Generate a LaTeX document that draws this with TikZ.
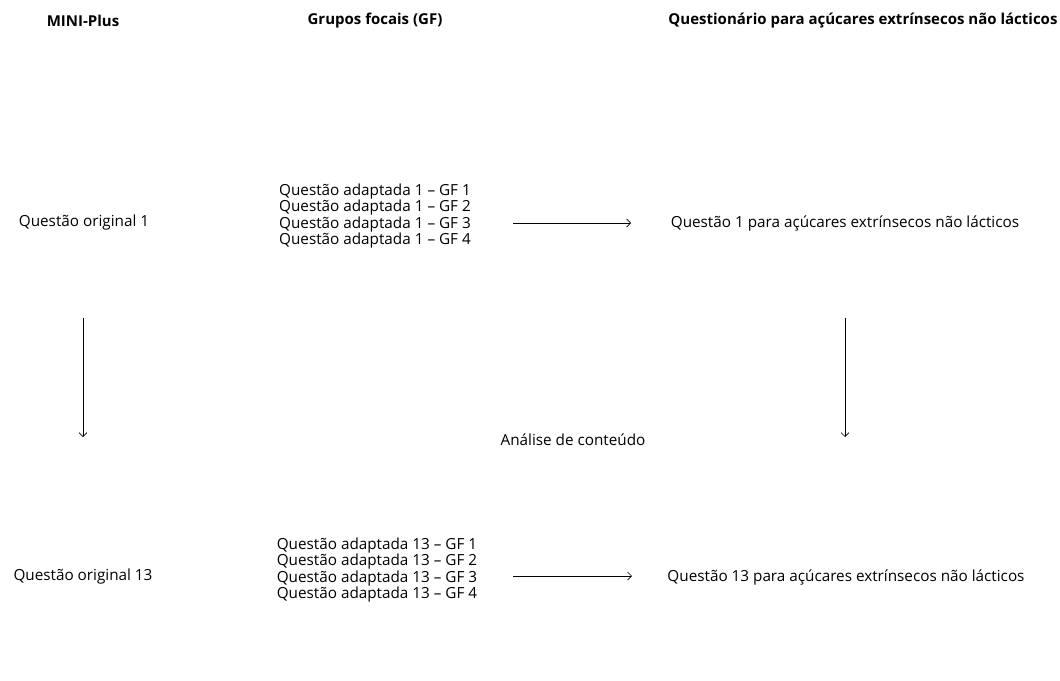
\documentclass[tikz,border=0pt]{standalone}
\usepackage{fontspec}
\setmainfont{Open Sans}
\usetikzlibrary{arrows.meta}

\begin{document}
\begin{tikzpicture}[x=0.2646mm,y=-0.2646mm]
\tikzstyle{every node}+=[inner sep=0pt,font=\fontsize{11.5}{12.4}\selectfont]
\tikzstyle{head}=[font=\fontsize{11.3}{12.4}\selectfont\bfseries]
\tikzstyle{arr}=[draw,line width=0.5pt,-{Straight Barb[length=3pt,width=6pt]}]
\useasboundingbox (0,0) rectangle (1060,680);
\node [head] (mini) at (83,21) {MINI-Plus};
\node [head] (gf) at (375,21) {Grupos focais (GF)};
\node [head] (quest) at (863,21) {Questionário para açúcares extrínsecos não lácticos};
\node (orig1) at (84,223) {Questão original 1};
\node [align=left] (gf1) at (375,216) {Questão adaptada 1 -- GF 1\\Questão adaptada 1 -- GF 2\\Questão adaptada 1 -- GF 3\\Questão adaptada 1 -- GF 4};
\node (q1) at (845,223) {Questão 1 para açúcares extrínsecos não lácticos};
\node (anal) at (573,440) {Análise de conteúdo};
\node (orig13) at (83,577) {Questão original 13};
\node [align=left] (gf13) at (377,570) {Questão adaptada 13 -- GF 1\\Questão adaptada 13 -- GF 2\\Questão adaptada 13 -- GF 3\\Questão adaptada 13 -- GF 4};
\node (q13) at (846,577) {Questão 13 para açúcares extrínsecos não lácticos};
\coordinate (a1) at (513,223);
\coordinate (b1) at (631,223);
\coordinate (a13) at (513,576);
\coordinate (b13) at (632,576);
\coordinate (l1) at (83,318);
\coordinate (l2) at (83,437);
\coordinate (r1) at (845,318);
\coordinate (r2) at (845,437);
\draw [arr] (a1) -- (b1);
\draw [arr] (a13) -- (b13);
\draw [arr] (l1) -- (l2);
\draw [arr] (r1) -- (r2);
\end{tikzpicture}
\end{document}
